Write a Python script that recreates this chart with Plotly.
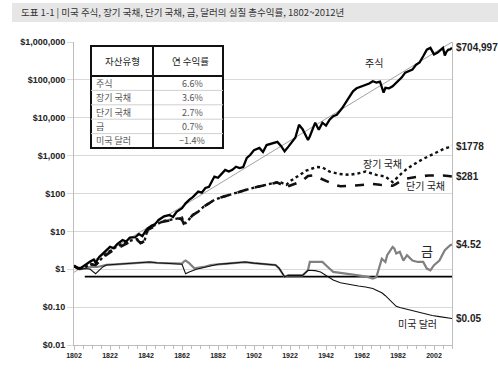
import plotly.graph_objects as go
import math

# ---------------- data ----------------
stock_years = [1802,1804,1806,1808,1811,1813,1814,1816,1819,1822,1824,1826,1829,1831,1833,1836,1838,1840,1842,1845,1847,1849,1852,1855,1857,1859,1862,1864,1866,1868,1871,1873,1875,1877,1880,1882,1884,1886,1888,1890,1892,1894,1896,1898,1900,1902,1905,1907,1909,1912,1915,1917,1919,1921,1923,1925,1927,1929,1932,1933,1936,1938,1940,1942,1944,1946,1948,1951,1954,1957,1959,1961,1964,1966,1968,1970,1972,1974,1975,1977,1979,1981,1984,1986,1988,1990,1992,1994,1996,1998,2000,2002,2004,2006,2007,2008,2009,2010,2011,2012]
stock_values = [1.26,1.05,1.1,1.3,1.6,1.8,1.5,2.1,2.8,3.9,3.6,4.6,5.9,5.4,6.8,7.0,8.5,7.5,10.7,14,15.5,20,25,27,24,33,41,55,68,80,112,105,140,150,280,260,330,420,380,420,510,470,500,870,1050,1400,1600,1250,1900,2100,2300,1800,1300,1700,2200,3000,6500,5000,2600,3200,7400,4800,7400,6200,8900,11000,12000,18000,30000,50000,60000,65000,74000,80000,92000,85000,90000,46000,62000,60000,68000,85000,115000,155000,170000,186000,250000,290000,420000,630000,700000,470000,525000,620000,700000,440000,560000,630000,640000,704997]

lbond_years = [1802,1805,1808,1811,1814,1817,1820,1823,1826,1829,1832,1835,1837,1839,1841,1843,1846,1849,1852,1855,1858,1861,1862,1863,1864,1866,1868,1871,1874,1877,1880,1884,1888,1892,1896,1900,1904,1908,1912,1915,1917,1920,1922,1925,1928,1931,1934,1937,1940,1944,1949,1955,1960,1964,1970,1975,1979,1982,1984,1987,1990,1993,1996,1999,2002,2005,2008,2010,2012]
lbond_values = [1.2,1.05,1.1,1.4,1.3,1.9,2.6,3.3,4.0,4.8,5.5,6.0,6.3,5.0,5.2,12,14,17,19,20,21,22,23,17,16.5,21,27,33,45,55,68,80,92,105,122,135,150,165,190,200,195,170,210,260,330,400,450,500,490,380,330,310,340,380,310,280,200,280,340,450,560,680,820,960,1150,1300,1550,1650,1778]

sbond_years = [1802,1805,1808,1811,1814,1817,1820,1823,1826,1829,1832,1835,1837,1839,1841,1843,1846,1849,1852,1855,1858,1861,1862,1863,1864,1866,1868,1871,1874,1877,1880,1884,1888,1892,1896,1900,1904,1908,1912,1915,1917,1919,1921,1923,1926,1929,1932,1935,1938,1941,1944,1947,1950,1953,1956,1960,1964,1968,1972,1976,1979,1981,1984,1987,1991,1995,1999,2003,2007,2010,2012]
sbond_values = [1.2,1.05,1.1,1.35,1.3,1.8,2.4,3.0,3.6,4.3,5.0,5.7,6.0,4.9,5.5,11,13,17,18,19,20,22,20,16,17,21,27,33,45,55,68,80,92,105,122,135,150,165,185,195,175,140,155,165,190,220,290,300,260,230,200,170,155,155,160,165,175,178,170,165,160,180,220,250,270,285,300,305,300,290,281]

gold_years = [1802,1805,1808,1812,1815,1818,1820,1825,1830,1835,1840,1844,1848,1852,1856,1861,1862,1863,1864,1866,1869,1874,1878,1882,1887,1892,1897,1902,1906,1910,1914,1916,1918,1919,1921,1925,1929,1932,1933,1936,1940,1943,1946,1950,1953,1956,1960,1965,1968,1970,1971,1973,1975,1976,1979,1980,1981,1983,1985,1987,1990,1993,1996,1998,2000,2002,2005,2008,2011,2012]
gold_values = [1.2,1.0,1.05,1.15,1.15,1.25,1.3,1.35,1.4,1.42,1.5,1.55,1.48,1.45,1.42,1.4,1.4,1.6,1.7,1.45,1.05,1.15,1.29,1.35,1.41,1.5,1.55,1.45,1.41,1.35,1.29,1.05,0.72,0.63,0.69,0.69,0.69,0.94,1.56,1.56,1.56,1.15,0.85,0.8,0.77,0.74,0.69,0.63,0.57,0.62,0.9,1.9,1.55,2.35,3.9,3.5,2.6,2.9,1.7,2.35,1.7,1.56,1.56,1.04,0.94,1.28,1.7,3.2,4.3,4.52]

dollar_years = [1802,1805,1808,1811,1814,1816,1818,1820,1825,1830,1835,1840,1844,1848,1852,1856,1861,1862,1864,1866,1870,1874,1878,1882,1887,1892,1897,1902,1906,1910,1914,1916,1918,1919,1921,1925,1929,1932,1936,1939,1943,1946,1950,1955,1960,1964,1968,1970,1973,1975,1977,1979,1981,1983,1987,1992,1996,2001,2005,2008,2010,2012]
dollar_values = [1.2,1.0,1.05,1.0,0.76,0.95,1.15,1.3,1.35,1.4,1.42,1.5,1.55,1.48,1.45,1.42,1.4,1.35,0.76,0.85,1.0,1.1,1.25,1.35,1.41,1.5,1.55,1.45,1.41,1.35,1.29,1.05,0.72,0.63,0.69,0.69,0.69,0.94,0.92,0.85,0.65,0.52,0.44,0.39,0.36,0.34,0.31,0.28,0.24,0.2,0.16,0.125,0.105,0.098,0.088,0.074,0.066,0.06,0.056,0.053,0.051,0.05]

trend_years = [1802, 2012]
trend_values = [0.83, 1000000]

ref_years = [1808, 2012]
ref_values = [0.64, 0.64]

y_tick_vals = [0.01, 0.1, 1, 10, 100, 1000, 10000, 100000, 1000000]
y_tick_text = ["$0.01", "$0.10", "$1", "$10", "$100", "$1,000", "$10,000", "$100,000", "$1,000,000"]
x_tick_vals = [1802, 1822, 1842, 1862, 1882, 1902, 1922, 1942, 1962, 1982, 2002]

title_text = "도표 1-1 | 미국 주식, 장기 국채, 단기 국채, 금, 달러의 실질 총수익률, 1802~2012년"
table_header = ["자산유형", "연 수익률"]
table_assets = ["주식", "장기 국채", "단기 국채", "금", "미국 달러"]
table_returns = ["6.6%", "3.6%", "2.7%", "0.7%", "\u22121.4%"]

series_labels = ["주식", "장기 국채", "단기 국채", "금", "미국 달러"]
end_labels = ["$704,997", "$1778", "$281", "$4.52", "$0.05"]

# ---------------- layout helpers ----------------
W, H = 498, 380
ML, MR, MT, MB = 74, 46, 42, 35
PW, PH = W - ML - MR, H - MT - MB

def px(x):
    return (x - ML) / PW

def py(y):
    return (H - MB - y) / PH

KR = "Noto Sans CJK KR"
LAT = "Liberation Sans"

fig = go.Figure()

fig.add_trace(go.Scatter(x=trend_years, y=trend_values, mode="lines",
                         line=dict(color="#8a8a8a", width=0.8), hoverinfo="skip"))
fig.add_trace(go.Scatter(x=ref_years, y=ref_values, mode="lines",
                         line=dict(color="#000000", width=1.6)))
fig.add_trace(go.Scatter(x=gold_years, y=gold_values, mode="lines",
                         line=dict(color="#808080", width=2.2)))
fig.add_trace(go.Scatter(x=dollar_years, y=dollar_values, mode="lines",
                         line=dict(color="#111111", width=1.1)))
fig.add_trace(go.Scatter(x=sbond_years, y=sbond_values, mode="lines",
                         line=dict(color="#111111", width=2.6, dash="dash")))
fig.add_trace(go.Scatter(x=lbond_years, y=lbond_values, mode="lines",
                         line=dict(color="#111111", width=2.4, dash="dot")))
fig.add_trace(go.Scatter(x=stock_years, y=stock_values, mode="lines",
                         line=dict(color="#000000", width=2.3)))

shapes = []
annotations = []

def note(text, x, y, size, color="#222222", family=KR, xanchor="center"):
    annotations.append(dict(text=text, xref="paper", yref="paper", x=px(x), y=py(y),
                            xanchor=xanchor, yanchor="middle", showarrow=False,
                            font=dict(family=family, size=size, color=color)))

# title bar
shapes.append(dict(type="rect", xref="paper", yref="paper",
                   x0=px(12), x1=px(498), y0=py(22), y1=py(3),
                   fillcolor="#e6e6e6", line=dict(width=0), layer="below"))
note(title_text, 19, 12.5, 9.5, "#333333", xanchor="left")

# table
tx0, tx1, ty0, ty1 = 91, 223, 46, 148
thead, tcol = 76, 153
rowh = (ty1 - thead) / len(table_assets)
shapes.append(dict(type="rect", xref="paper", yref="paper",
                   x0=px(tx0), x1=px(tx1), y0=py(ty1), y1=py(ty0),
                   fillcolor="white", line=dict(color="#111111", width=2)))
for i in range(1, len(table_assets)):
    yy = thead + i * rowh
    shapes.append(dict(type="line", xref="paper", yref="paper",
                       x0=px(tx0), x1=px(tx1), y0=py(yy), y1=py(yy),
                       line=dict(color="#d0d0d0", width=1)))
shapes.append(dict(type="line", xref="paper", yref="paper",
                   x0=px(tx0), x1=px(tx1), y0=py(thead), y1=py(thead),
                   line=dict(color="#111111", width=2)))
shapes.append(dict(type="line", xref="paper", yref="paper",
                   x0=px(tcol), x1=px(tcol), y0=py(ty1), y1=py(ty0),
                   line=dict(color="#111111", width=2)))
note(table_header[0], (tx0 + tcol) / 2, (ty0 + thead) / 2, 9.5)
note(table_header[1], (tcol + tx1) / 2 + 2, (ty0 + thead) / 2, 9.5)
for i, (a, r) in enumerate(zip(table_assets, table_returns)):
    yc = thead + (i + 0.5) * rowh
    note(a, tx0 + 3, yc, 9, "#555555", xanchor="left")
    note(r, (tcol + tx1) / 2 + 4, yc, 9, "#555555")

# inline series labels
label_pos = [(374, 63, 10), (382, 163, 10), (425, 185, 10), (427, 250, 13), (417, 323, 10)]
for t, (lx, ly, fs) in zip(series_labels, label_pos):
    note(t, lx, ly, fs)

# end-value labels
end_series = [stock_values, lbond_values, sbond_values, gold_values, dollar_values]
for t, s in zip(end_labels, end_series):
    annotations.append(dict(text="<b>" + t + "</b>", xref="paper", yref="y",
                            x=1, xshift=2, y=math.log10(s[-1]), xanchor="left", yanchor="middle",
                            showarrow=False, font=dict(family=LAT, size=10, color="#222222")))

fig.update_layout(
    width=W, height=H, autosize=False,
    margin=dict(l=ML, r=MR, t=MT, b=MB, pad=0),
    paper_bgcolor="white", plot_bgcolor="white",
    showlegend=False,
    shapes=shapes, annotations=annotations,
    xaxis=dict(range=[1802, 2012], tickvals=x_tick_vals, ticktext=[str(v) for v in x_tick_vals],
               showgrid=False, zeroline=False, showline=True, linecolor="#bdbdbd", linewidth=1,
               ticks="outside", ticklen=4, tickcolor="#bdbdbd",
               minor=dict(dtick=5, tick0=1802, ticks="outside", ticklen=3, tickcolor="#bdbdbd"),
               tickfont=dict(family=LAT, size=7, color="#222222", weight="bold")),
    yaxis=dict(type="log", range=[-2, 6], tickvals=y_tick_vals, ticktext=y_tick_text,
               showgrid=True, gridcolor="#d9d9d9", gridwidth=1, zeroline=False,
               showline=True, linecolor="#bdbdbd", linewidth=1, mirror=True,
               ticks="outside", ticklen=6, tickcolor="#d9d9d9",
               tickfont=dict(family=LAT, size=9, color="#222222", weight="bold")),
)

fig.write_html("out.html", config={"displayModeBar": False},
               post_script="document.body.style.margin='0';")
